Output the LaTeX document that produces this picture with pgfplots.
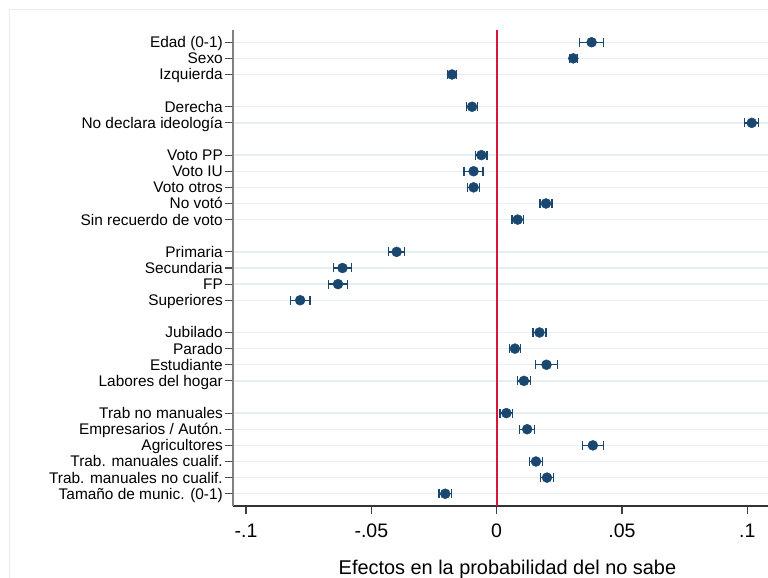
\documentclass[border=0pt]{standalone}
\usepackage{pgfplots}
\pgfplotsset{compat=1.18}
\usepackage{pgfplotstable}
\usepackage{fontspec}
\setmainfont{Liberation Sans}

\definecolor{coefnavy}{RGB}{26,71,111}
\definecolor{zeroline}{RGB}{216,22,58}
\definecolor{gridblue}{RGB}{232,239,242}
\definecolor{outerframe}{RGB}{236,236,236}

% row  estimate  half-width of the confidence interval
\pgfplotstableread{
y  x        e
0   0.0379  0.0048
1   0.0306  0.0016
2  -0.0178  0.0018
4  -0.0098  0.0022
5   0.1018  0.0028
7  -0.0061  0.0022
8  -0.0092  0.0038
9  -0.0092  0.0024
10  0.0197  0.0024
11  0.0084  0.0023
13 -0.0399  0.0032
14 -0.0615  0.0037
15 -0.0633  0.0039
16 -0.0784  0.0039
18  0.0171  0.0026
19  0.0073  0.0022
20  0.0199  0.0044
21  0.0109  0.0025
23  0.0039  0.0025
24  0.0122  0.0030
25  0.0384  0.0042
26  0.0157  0.0027
27  0.0201  0.0026
28 -0.0205  0.0025
}\coefs

\begin{document}
\begin{tikzpicture}[x=1bp,y=1bp]
\useasboundingbox (0,0) rectangle (768,578);
\draw[outerframe, line width=1bp] (9.5,0) |- (768,568.5);
\begin{axis}[
  at={(233bp,72bp)}, anchor=south west,
  scale only axis, width=535bp, height=476bp,
  xmin=-0.1052, xmax=0.1083,
  ymin=-0.76, ymax=28.76, y dir=reverse,
  axis x line*=bottom, axis y line*=left,
  x axis line style={-, draw=black!80, line width=1.2bp},
  y axis line style={-, draw=black!50, line width=1.6bp},
  tick align=outside, major tick length=8bp,
  xtick style={draw=black!75, line width=1.2bp},
  ytick style={draw=black!70, line width=1.2bp},
  xtick={-0.1,-0.05,0,0.05,0.1},
  xticklabels={-.1,-.05,0,.05,.1},
  ytick={0,1,2,4,5,7,8,9,10,11,13,14,15,16,18,19,20,21,23,24,25,26,27,28},
  yticklabels={Edad (0-1),Sexo,Izquierda,Derecha,No declara ideología,
    Voto PP,Voto IU,Voto otros,No votó,Sin recuerdo de voto,
    Primaria,Secundaria,FP,Superiores,
    Jubilado,Parado,Estudiante,Labores del hogar,
    Trab no manuales,Empresarios / Autón.,Agricultores,
    Trab. manuales cualif.,Trab. manuales no cualif.,Tamaño de munic. (0-1)},
  yticklabel style={font=\fontsize{15.4bp}{18bp}\selectfont,
    anchor=base east, inner sep=0pt, xshift=-2bp, yshift=-5.5bp},
  xticklabel style={font=\fontsize{19.5bp}{22bp}\selectfont,
    anchor=base, inner sep=0pt, yshift=-23bp},
  ymajorgrids,
  grid style={gridblue, line width=1.3bp},
  xlabel={Efectos en la probabilidad del no sabe},
  xlabel style={font=\fontsize{19.9bp}{23bp}\selectfont,
    at={(axis description cs:0.513,0)}, anchor=base, inner sep=0pt,
    yshift=-68bp},
  clip=false,
]
\addplot[zeroline, line width=1.8bp] coordinates {(0,-0.76) (0,28.76)};
\addplot[only marks, mark=*, mark size=5bp,
  color=coefnavy, mark options={fill=coefnavy, draw=coefnavy},
  error bars/.cd, x dir=both, x explicit, error mark=|,
  error bar style={line width=1.3bp, coefnavy},
  error mark options={line width=1.3bp, mark size=4.5bp, coefnavy}]
  table[x=x, y=y, x error=e] {\coefs};
\end{axis}
\end{tikzpicture}
\end{document}
